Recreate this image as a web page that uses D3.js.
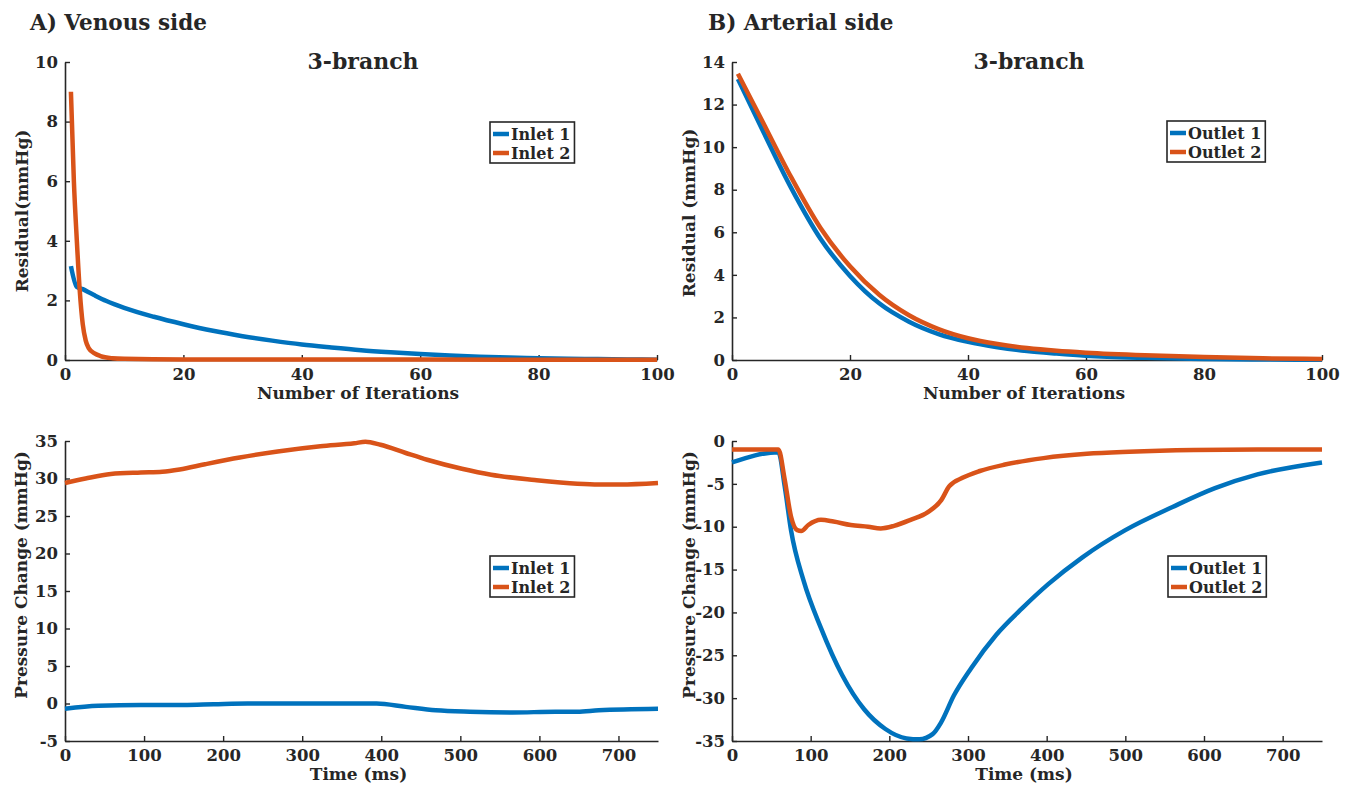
<!DOCTYPE html>
<html>
<head>
<meta charset="utf-8">
<script src="https://cdn.jsdelivr.net/npm/d3@7"></script>
<style>
body { margin: 0; background: #fff; }
text { font-family: "DejaVu Serif", serif; font-weight: bold; fill: #262626; }
</style>
</head>
<body>
<svg id="chart" width="1355" height="793"></svg>
<script>
// residual vs iteration, venous side
var inlet1Residual = [[1,3.15],[2,2.45],[3,2.38],[4,2.27],[5,2.17],[7,1.98],[10,1.75],[15,1.45],[20,1.2],[25,0.98],[30,0.8],[35,0.65],[40,0.52],[45,0.42],[50,0.33],[55,0.26],[60,0.2],[65,0.15],[70,0.11],[75,0.08],[80,0.06],[85,0.04],[90,0.03],[95,0.02],[100,0.01]];
var inlet2Residual = [[1,9.0],[1.5,6.0],[2,4.0],[2.5,2.3],[3,1.2],[3.5,0.65],[4,0.4],[5,0.22],[6,0.13],[8,0.06],[10,0.04],[20,0.02],[100,0.01]];

// residual vs iteration, arterial side
var outlet1Residual = [[1,13.2],[5,10.9],[10,8.1],[15,5.7],[20,3.95],[25,2.65],[30,1.8],[35,1.22],[40,0.85],[45,0.6],[50,0.42],[55,0.3],[60,0.2],[70,0.1],[80,0.05],[90,0.02],[100,0.01]];
var outlet2Residual = [[1,13.45],[5,11.3],[10,8.6],[15,6.2],[20,4.4],[25,3.05],[30,2.1],[35,1.45],[40,1.02],[45,0.75],[50,0.56],[55,0.43],[60,0.34],[70,0.22],[80,0.14],[90,0.08],[100,0.05]];

// pressure change vs time (ms)
var inlet1Pressure = [[0,-0.7],[42,-0.3],[96,-0.2],[150,-0.2],[188,-0.1],[231,0.0],[296,0.0],[394,0.0],[431,-0.45],[469,-0.9],[512,-1.1],[566,-1.2],[620,-1.1],[648,-1.1],[675,-0.9],[750,-0.7]];
var inlet2Pressure = [[0,29.4],[26,30.0],[58,30.6],[96,30.8],[123,30.9],[145,31.2],[177,31.9],[221,32.8],[269,33.6],[323,34.3],[366,34.7],[380,34.9],[399,34.5],[431,33.4],[458,32.5],[502,31.3],[539,30.5],[594,29.8],[648,29.3],[675,29.2],[702,29.2],[750,29.4]];
var outlet1Pressure = [[0,-2.5],[59,-1.3],[67,-5.3],[75,-10.4],[91,-16.3],[113,-21.8],[140,-27.3],[168,-31.3],[195,-33.6],[222,-34.7],[238,-34.8],[255,-34.2],[266,-32.8],[282,-29.7],[304,-26.5],[336,-22.6],[369,-19.5],[402,-16.7],[445,-13.6],[500,-10.4],[560,-7.7],[614,-5.5],[668,-3.9],[750,-2.5]];
var outlet2Pressure = [[0,-1.0],[59,-1.0],[67,-4.5],[75,-8.8],[83,-10.4],[88,-10.5],[97,-9.8],[113,-9.2],[129,-9.4],[151,-9.8],[173,-10.0],[189,-10.2],[206,-9.9],[227,-9.2],[249,-8.3],[266,-6.9],[276,-5.3],[293,-4.3],[315,-3.5],[347,-2.75],[396,-2.0],[451,-1.5],[505,-1.26],[587,-1.06],[668,-1.0],[750,-1.0]];

var iterTicks = [0,20,40,60,80,100];
var timeTicks = [0,100,200,300,400,500,600,700];
var venResTicks = [0,2,4,6,8,10];
var artResTicks = [0,2,4,6,8,10,12,14];
var venPresTicks = [-5,0,5,10,15,20,25,30,35];
var artPresTicks = [-35,-30,-25,-20,-15,-10,-5,0];

var blue = "#0072BD";
var orange = "#D95319";
var ink = "#262626";

var svg = d3.select("#chart");

function drawPanel(p)
{
	var x = d3.scaleLinear().domain(p.xDomain).range([p.left, p.right]);
	var y = d3.scaleLinear().domain(p.yDomain).range([p.bottom, p.top]);
	var g = svg.append("g");

	var xAxis = g.append("g")
		.attr("transform", `translate(0, ${p.bottom})`)
		.call(d3.axisBottom(x).tickValues(p.xTicks).tickSizeInner(-5).tickSizeOuter(0).tickPadding(8).tickFormat(function(d){ return String(d); }));
	var yAxis = g.append("g")
		.attr("transform", `translate(${p.left}, 0)`)
		.call(d3.axisLeft(y).tickValues(p.yTicks).tickSizeInner(-5).tickSizeOuter(0).tickPadding(7).tickFormat(function(d){ return String(d); }));

	[xAxis, yAxis].forEach(function(a) {
		a.select(".domain").attr("stroke", ink).attr("stroke-width", 1.6);
		a.selectAll(".tick line").attr("stroke", ink).attr("stroke-width", 1.4);
		a.selectAll(".tick text").attr("fill", ink)
			.style("font-family", "'DejaVu Serif', serif").style("font-weight", "bold").style("font-size", "16.5px");
	});

	var line = d3.line()
		.x(function(d) { return x(d[0]); })
		.y(function(d) { return y(d[1]); })
		.curve(d3.curveMonotoneX);

	p.series.forEach(function(s) {
		g.append("path")
			.datum(s.data)
			.attr("d", line)
			.attr("fill", "none")
			.attr("stroke", s.color)
			.attr("stroke-width", 4.5)
			.attr("stroke-linejoin", "round");
	});

	if (p.title) {
		g.append("text")
			.attr("x", (p.left + p.right) / 2 + 2)
			.attr("y", p.top + 7)
			.attr("text-anchor", "middle")
			.style("font-size", "22px")
			.text(p.title);
	}

	g.append("text")
		.attr("x", (p.left + p.right) / 2 - 3)
		.attr("y", p.bottom + p.xLabelOffset)
		.attr("text-anchor", "middle")
		.style("font-size", "17px")
		.text(p.xLabel);

	g.append("text")
		.attr("transform", `translate(${p.yLabelX}, ${p.yLabelY}) rotate(-90)`)
		.attr("text-anchor", "middle")
		.attr("dy", "0.35em")
		.style("font-size", "17px")
		.text(p.yLabel);

	// legend
	var lg = g.append("g").attr("transform", `translate(${p.legendX}, ${p.legendY})`);
	var box = lg.append("rect")
		.attr("fill", "#fff")
		.attr("stroke", ink)
		.attr("stroke-width", 1.6);
	var maxW = 0;
	p.series.forEach(function(s, i) {
		var cy = 12 + i * 19;
		lg.append("line")
			.attr("x1", 3).attr("x2", 19)
			.attr("y1", cy).attr("y2", cy)
			.attr("stroke", s.color)
			.attr("stroke-width", 4.5);
		var t = lg.append("text")
			.attr("x", 21)
			.attr("y", cy)
			.attr("dy", "0.36em")
			.style("font-size", "16px")
			.text(s.name);
		maxW = Math.max(maxW, t.node().getComputedTextLength());
	});
	box.attr("x", 0).attr("y", 0).attr("width", 21 + maxW + 4).attr("height", 41);
}

drawPanel({
	left: 65, right: 657, top: 62, bottom: 360,
	xDomain: [0, 100], yDomain: [0, 10], xTicks: iterTicks, yTicks: venResTicks,
	title: "3-branch", xLabel: "Number of Iterations", xLabelOffset: 39,
	yLabel: "Residual(mmHg)", yLabelX: 22, yLabelY: 211,
	legendX: 490, legendY: 122,
	series: [
		{ name: "Inlet 1", color: blue, data: inlet1Residual },
		{ name: "Inlet 2", color: orange, data: inlet2Residual }
	]
});

drawPanel({
	left: 732, right: 1322, top: 62, bottom: 360,
	xDomain: [0, 100], yDomain: [0, 14], xTicks: iterTicks, yTicks: artResTicks,
	title: "3-branch", xLabel: "Number of Iterations", xLabelOffset: 39,
	yLabel: "Residual (mmHg)", yLabelX: 689, yLabelY: 213,
	legendX: 1167, legendY: 121,
	series: [
		{ name: "Outlet 1", color: blue, data: outlet1Residual },
		{ name: "Outlet 2", color: orange, data: outlet2Residual }
	]
});

drawPanel({
	left: 65, right: 658, top: 441, bottom: 741,
	xDomain: [0, 750], yDomain: [-5, 35], xTicks: timeTicks, yTicks: venPresTicks,
	xLabel: "Time (ms)", xLabelOffset: 39,
	yLabel: "Pressure Change (mmHg)", yLabelX: 21, yLabelY: 575,
	legendX: 490, legendY: 556,
	series: [
		{ name: "Inlet 1", color: blue, data: inlet1Pressure },
		{ name: "Inlet 2", color: orange, data: inlet2Pressure }
	]
});

drawPanel({
	left: 732, right: 1322, top: 441, bottom: 741,
	xDomain: [0, 750], yDomain: [-35, 0], xTicks: timeTicks, yTicks: artPresTicks,
	xLabel: "Time (ms)", xLabelOffset: 39,
	yLabel: "Pressure Change (mmHg)", yLabelX: 689, yLabelY: 575,
	legendX: 1168, legendY: 556,
	series: [
		{ name: "Outlet 1", color: blue, data: outlet1Pressure },
		{ name: "Outlet 2", color: orange, data: outlet2Pressure }
	]
});

svg.append("text").attr("x", 30).attr("y", 30).style("font-size", "21.5px").text("A) Venous side");
svg.append("text").attr("x", 708).attr("y", 30).style("font-size", "21.5px").text("B) Arterial side");
</script>
</body>
</html>
